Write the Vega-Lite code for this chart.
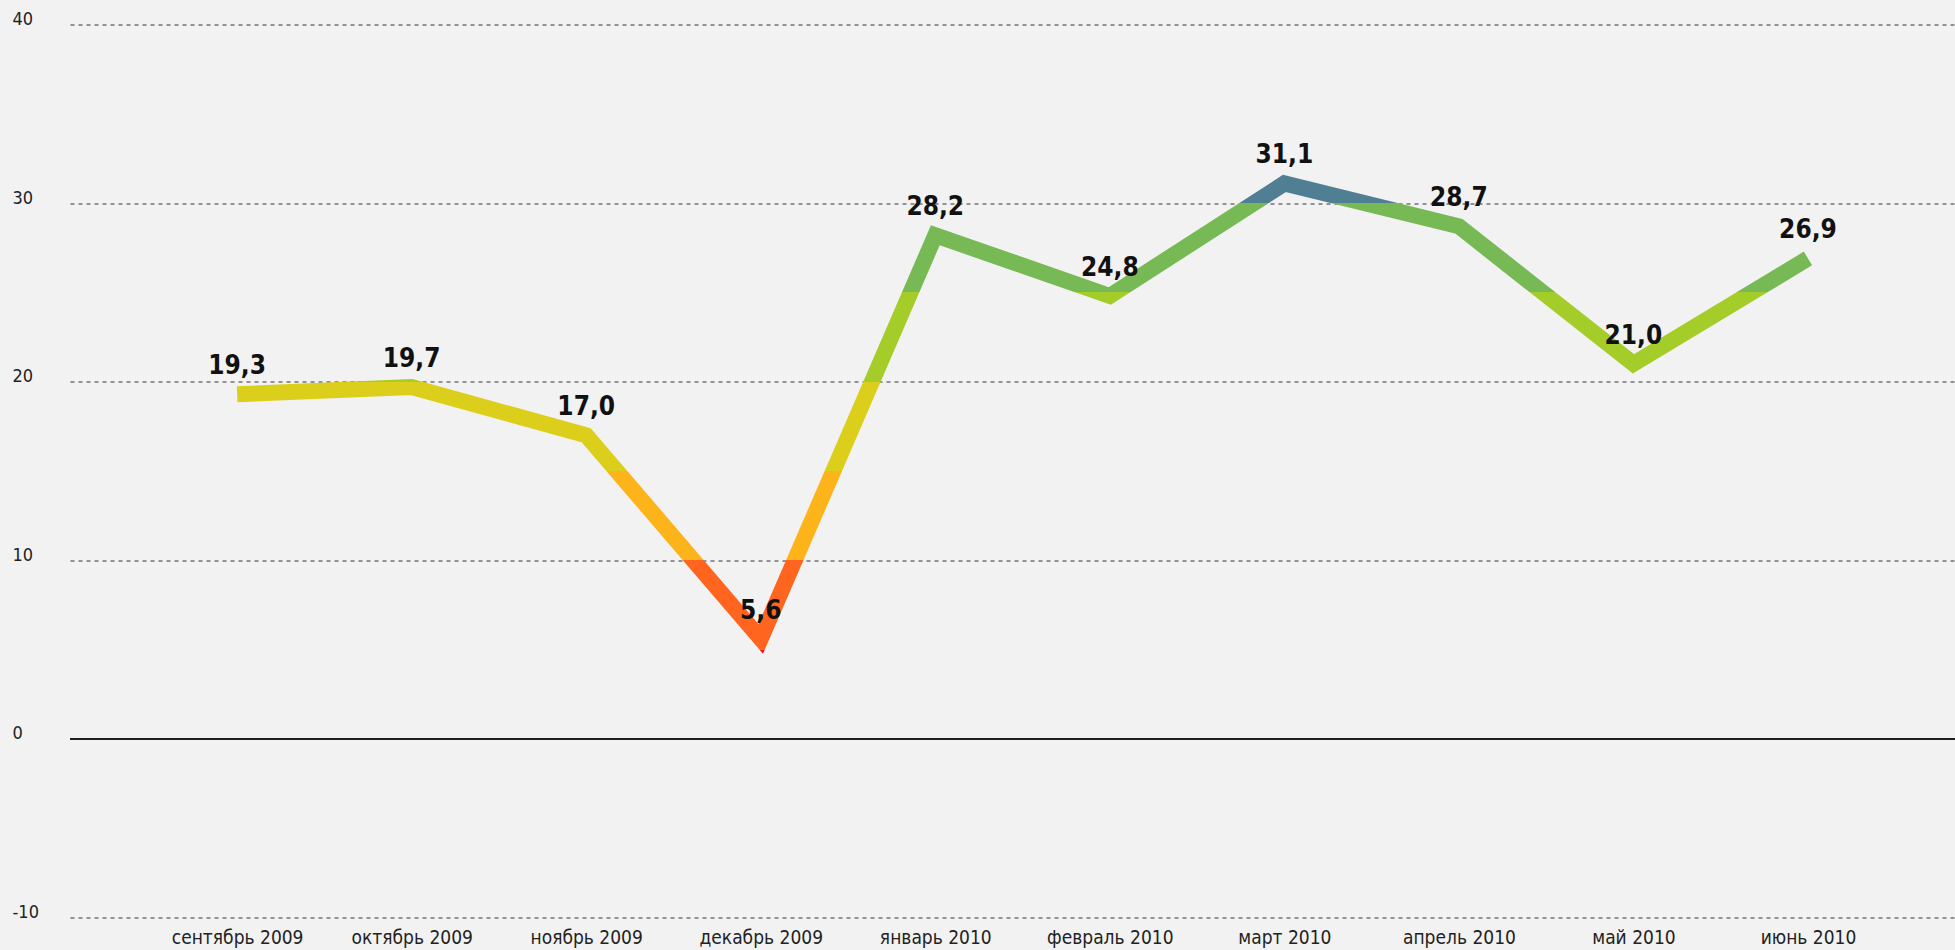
{
  "$schema": "https://vega.github.io/schema/vega-lite/v6.json",
  "width": 1885,
  "height": 893,
  "autosize": {"type": "none"},
  "padding": {"left": 70, "top": 24.5, "right": 0, "bottom": 32.5},
  "background": "#f2f2f2",
  "config": {
    "view": {"stroke": null},
    "font": "Liberation Sans Narrow, DejaVu Sans Condensed",
    "locale": {"number": {"decimal": ",", "thousands": " ", "grouping": [3], "currency": ["", ""], "minus": "-"}}
  },
  "data": {
    "values": [
      {"month": "сентябрь 2009", "value": 19.3},
      {"month": "октябрь 2009", "value": 19.7},
      {"month": "ноябрь 2009", "value": 17.0},
      {"month": "декабрь 2009", "value": 5.6},
      {"month": "январь 2010", "value": 28.2},
      {"month": "февраль 2010", "value": 24.8},
      {"month": "март 2010", "value": 31.1},
      {"month": "апрель 2010", "value": 28.7},
      {"month": "май 2010", "value": 21.0},
      {"month": "июнь 2010", "value": 26.9}
    ]
  },
  "layer": [
    {
      "mark": {
        "type": "line",
        "strokeWidth": 16,
        "strokeCap": "butt",
        "strokeJoin": "miter",
        "stroke": {
          "gradient": "linear",
          "x1": 0, "x2": 0, "y1": -0.152941, "y2": 1.219608,
          "stops": [
            {"offset": 0, "color": "#507f94"},
            {"offset": 0.142857, "color": "#507f94"},
            {"offset": 0.142857, "color": "#77ba55"},
            {"offset": 0.285714, "color": "#77ba55"},
            {"offset": 0.285714, "color": "#a4cd2a"},
            {"offset": 0.428571, "color": "#a4cd2a"},
            {"offset": 0.428571, "color": "#dccf1c"},
            {"offset": 0.571429, "color": "#dccf1c"},
            {"offset": 0.571429, "color": "#fdb31a"},
            {"offset": 0.714286, "color": "#fdb31a"},
            {"offset": 0.714286, "color": "#ff651f"},
            {"offset": 0.857143, "color": "#ff651f"},
            {"offset": 0.857143, "color": "#f0141e"},
            {"offset": 1, "color": "#f0141e"}
          ]
        }
      },
      "encoding": {
        "x": {
          "field": "month", "type": "ordinal", "sort": null,
          "scale": {"type": "point", "padding": 0.9, "align": 0.532},
          "axis": {
            "title": null, "domain": false, "ticks": false, "tickSize": 0, "grid": false,
            "labelPadding": 11, "labelFontSize": 19, "labelColor": "#222", "labelAngle": 0,
            "labelBaseline": "top"
          }
        },
        "y": {
          "field": "value", "type": "quantitative",
          "scale": {"domain": [-10, 40], "nice": false, "zero": false},
          "axis": {
            "title": null, "values": [-10, 0, 10, 20, 30, 40],
            "grid": true, "gridDash": [4, 4], "gridColor": "#333", "gridWidth": 1, "gridOpacity": 1,
            "domain": false, "ticks": false, "tickSize": 0,
            "labelAlign": "left", "labelPadding": 58, "labelBaseline": "alphabetic",
            "labelFontSize": 18, "labelColor": "#222",
            "format": "d"
          }
        }
      }
    },
    {
      "mark": {"type": "rule", "color": "#1e1e1e", "strokeWidth": 2},
      "encoding": {
        "y": {"datum": 0, "type": "quantitative"}
      }
    },
    {
      "mark": {"type": "text", "dy": -20, "baseline": "alphabetic", "fontSize": 26, "fontWeight": "bold", "color": "#111"},
      "encoding": {
        "x": {"field": "month", "type": "ordinal", "sort": null},
        "y": {"field": "value", "type": "quantitative"},
        "text": {"field": "value", "type": "quantitative", "format": ".1f"}
      }
    }
  ]
}
